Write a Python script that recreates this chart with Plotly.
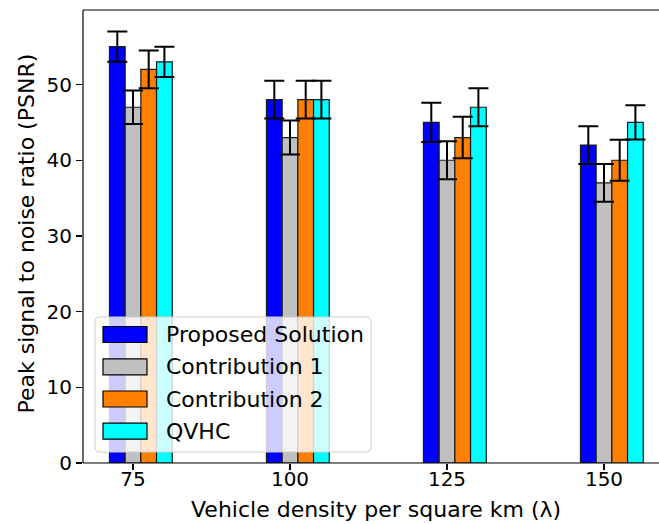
import plotly.graph_objects as go

# Vehicle density per square km and PSNR results (mean, std) per method
densities = [75, 100, 125, 150]
methods = ["Proposed Solution", "Contribution 1", "Contribution 2", "QVHC"]
psnr_proposed = [55, 48, 45, 42]
psnr_contrib1 = [47, 43, 40, 37]
psnr_contrib2 = [52, 48, 43, 40]
psnr_qvhc = [53, 48, 47, 45]
err_proposed = [2.0, 2.5, 2.6, 2.5]
err_contrib1 = [2.2, 2.25, 2.5, 2.5]
err_contrib2 = [2.5, 2.5, 2.75, 2.7]
err_qvhc = [2.0, 2.5, 2.5, 2.25]

series = [psnr_proposed, psnr_contrib1, psnr_contrib2, psnr_qvhc]
errors = [err_proposed, err_contrib1, err_contrib2, err_qvhc]
colors = ["#0000ff", "#c0c0c0", "#ff8000", "#00ffff"]

BAR_W = 2.5
shifts = [-BAR_W, 0.0, BAR_W, 2 * BAR_W]
FONT = "DejaVu Sans"

W, H = 659, 524
ML, MT, MB, MR = 83, 10, 61, 0
PW, PH = W - ML - MR, H - MT - MB
PX_PER_UNIT = 6.28
X0 = 75 - (133 - ML) / PX_PER_UNIT
X1 = X0 + PW / PX_PER_UNIT


def px(x):
    return (x - ML) / PW


def py(y):
    return (H - MB - y) / PH


fig = go.Figure()

# bars
for name, vals, col, sh in zip(methods, series, colors, shifts):
    fig.add_trace(go.Bar(
        x=[d + sh for d in densities], y=vals, width=BAR_W, name=name,
        marker=dict(color=col, line=dict(color="#1a1a1a", width=1.2)),
        showlegend=False,
    ))

# error bars drawn above all bars
for vals, errs, sh in zip(series, errors, shifts):
    fig.add_trace(go.Scatter(
        x=[d + sh for d in densities], y=vals, mode="markers",
        marker=dict(size=1, color="rgba(0,0,0,0)"),
        error_y=dict(type="data", array=errs, visible=True,
                     color="black", thickness=2, width=10),
        showlegend=False, hoverinfo="skip",
    ))

shapes = []
annotations = []

# keep the right-hand page edge clean (the right spine lies beyond the page)
shapes.append(dict(type="rect", xref="paper", yref="paper",
                   x0=1 - 4 / PW, x1=1 + 0.01, y0=-0.01, y1=1.01,
                   fillcolor="white", line=dict(width=0), layer="above"))

# spines: left, bottom, top
spine = dict(color="black", width=1.2)
shapes.append(dict(type="line", xref="paper", yref="paper", x0=0, x1=1,
                   y0=1, y1=1, line=spine, layer="above"))
shapes.append(dict(type="line", xref="paper", yref="paper", x0=0, x1=1,
                   y0=0, y1=0, line=spine, layer="above"))
shapes.append(dict(type="line", xref="paper", yref="paper", x0=0, x1=0,
                   y0=0, y1=1, line=spine, layer="above"))

# legend frame (rounded, semi-transparent)
lx0, lx1, ly0, ly1, r = 95, 371, 317, 452, 5
path = (f"M{px(lx0 + r)},{py(ly0)} L{px(lx1 - r)},{py(ly0)} "
        f"Q{px(lx1)},{py(ly0)} {px(lx1)},{py(ly0 + r)} "
        f"L{px(lx1)},{py(ly1 - r)} Q{px(lx1)},{py(ly1)} {px(lx1 - r)},{py(ly1)} "
        f"L{px(lx0 + r)},{py(ly1)} Q{px(lx0)},{py(ly1)} {px(lx0)},{py(ly1 - r)} "
        f"L{px(lx0)},{py(ly0 + r)} Q{px(lx0)},{py(ly0)} {px(lx0 + r)},{py(ly0)} Z")
shapes.append(dict(type="path", xref="paper", yref="paper", path=path,
                   fillcolor="rgba(255,255,255,0.8)",
                   line=dict(color="#cccccc", width=1), layer="above"))

row_y = [334.5, 366.8, 399.0, 431.2]
for name, col, yc in zip(methods, colors, row_y):
    shapes.append(dict(type="rect", xref="paper", yref="paper",
                       x0=px(103), x1=px(147), y0=py(yc - 8), y1=py(yc + 8),
                       fillcolor=col, line=dict(color="black", width=1.2),
                       layer="above"))
    annotations.append(dict(xref="paper", yref="paper", x=px(164), y=py(yc),
                            text=name, showarrow=False, xanchor="left",
                            yanchor="middle",
                            font=dict(family=FONT, size=22, color="black")))

# axis titles
annotations.append(dict(xref="paper", yref="paper", x=px(376), y=py(509),
                        text="Vehicle density per square km (λ)", showarrow=False,
                        xanchor="center", yanchor="middle",
                        font=dict(family=FONT, size=22, color="black")))
annotations.append(dict(xref="paper", yref="paper", x=px(26), y=py(233.5),
                        text="Peak signal to noise ratio (PSNR)", showarrow=False,
                        textangle=-90, xanchor="center", yanchor="middle",
                        font=dict(family=FONT, size=22, color="black")))

fig.update_layout(
    template="none",
    width=W, height=H,
    margin=dict(l=ML, r=MR, t=MT, b=MB),
    paper_bgcolor="white", plot_bgcolor="white",
    barmode="overlay",
    shapes=shapes, annotations=annotations,
    font=dict(family=FONT, color="black"),
    xaxis=dict(range=[X0, X1], tickvals=densities,
               ticktext=[str(d) for d in densities],
               showgrid=False, zeroline=False, showline=False,
               ticks="outside", ticklen=6, tickwidth=1.2, tickcolor="black",
               ticklabelstandoff=-8,
               tickfont=dict(family=FONT, size=20, color="black")),
    yaxis=dict(range=[0, 59.85], tickvals=[0, 10, 20, 30, 40, 50],
               showgrid=False, zeroline=False, showline=False,
               ticks="outside", ticklen=6, tickwidth=1.2, tickcolor="black",
               tickfont=dict(family=FONT, size=20, color="black")),
)

fig.write_html("out.html", config={"staticPlot": True})
